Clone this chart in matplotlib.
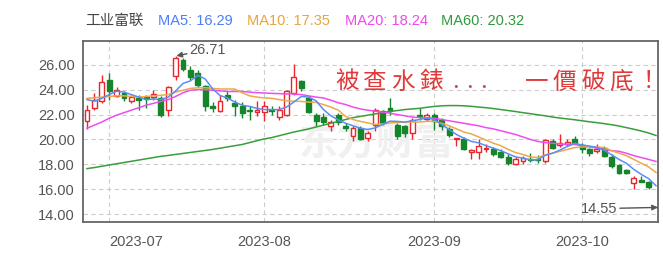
import numpy as np
import matplotlib
matplotlib.use("Agg")
import matplotlib.pyplot as plt
from matplotlib.patches import Rectangle

plt.rcParams['font.family'] = ['Liberation Sans', 'Noto Sans CJK SC', 'DejaVu Sans']

# 日K数据 (2023-06-28 ~ 2023-10-23)
opens = [21.46, 22.53, 23.06, 24.8, 23.46, 23.73, 23.06, 23.33, 23.38, 23.38,
         23.33, 22.4, 25.07, 26.4, 25.6, 25.33, 24.26, 22.67, 22.27, 23.55,
         22.94, 22.67, 22.4, 22.22, 22.22, 22.35, 21.82, 22.0, 23.73, 24.67,
         23.33, 22.0, 21.78, 21.07, 22.0, 21.07, 20.27, 20.93, 20.14, 21.2,
         22.27, 22.53, 21.2, 21.07, 20.53, 22.0, 21.65, 22.0, 21.6, 20.85,
         20.06, 20.0, 19.02, 18.98, 19.2, 19.2, 18.98, 18.62, 18.07, 18.27,
         18.45, 18.45, 18.27, 19.87, 19.52, 19.6, 20.0, 19.55, 19.2, 19.07,
         19.33, 18.62, 17.92, 17.55, 16.53, 16.72, 16.6, 14.55]
highs = [22.8, 23.76, 25.2, 25.3, 24.2, 23.9, 23.55, 23.6, 23.6, 24.0,
         23.47, 24.27, 26.71, 26.5, 25.9, 25.6, 24.4, 23.0, 23.6, 23.87,
         23.2, 23.04, 22.67, 23.07, 23.07, 22.67, 22.67, 24.0, 26.08, 24.8,
         23.47, 22.13, 22.13, 21.6, 22.13, 21.33, 21.07, 21.07, 20.67, 22.53,
         22.4, 23.33, 21.33, 21.2, 21.73, 22.53, 22.13, 22.13, 21.73, 21.0,
         20.14, 20.2, 19.2, 20.06, 19.6, 19.4, 19.2, 18.8, 18.6, 18.7,
         18.95, 18.75, 20.06, 20.0, 20.4, 20.0, 20.3, 19.7, 19.33, 19.6,
         19.5, 18.8, 18.0, 17.63, 17.06, 17.05, 16.7, 14.55]
lows = [20.85, 22.4, 22.96, 23.2, 23.4, 23.1, 22.9, 22.4, 22.5, 23.2,
        21.8, 21.87, 24.8, 25.5, 24.8, 24.2, 22.27, 22.2, 22.2, 23.07,
        21.87, 21.76, 21.6, 21.87, 21.47, 22.0, 21.6, 21.87, 23.6, 23.87,
        22.13, 21.07, 21.2, 20.66, 21.2, 20.66, 19.87, 19.97, 19.87, 20.66,
        21.2, 22.0, 20.0, 20.2, 20.0, 21.6, 21.5, 20.8, 20.8, 20.2,
        19.47, 19.13, 18.4, 18.4, 19.0, 18.66, 18.5, 17.95, 17.95, 18.0,
        18.2, 18.1, 18.1, 19.2, 19.4, 19.45, 19.6, 18.95, 18.66, 18.9,
        18.6, 17.7, 17.25, 17.25, 16.0, 16.58, 16.05, 14.55]
closes = [22.4, 23.2, 24.62, 23.86, 24.0, 23.33, 23.38, 23.2, 23.25, 23.65,
          22.0, 24.2, 26.5, 25.68, 25.0, 24.4, 22.67, 22.53, 23.07, 23.3,
          22.67, 22.13, 22.32, 22.35, 22.67, 22.27, 22.4, 23.87, 25.0, 24.13,
          22.18, 21.47, 21.38, 21.42, 21.38, 20.93, 20.93, 20.06, 20.48, 22.4,
          21.33, 22.32, 20.27, 20.53, 21.6, 21.87, 22.0, 21.47, 21.07, 20.32,
          20.14, 19.2, 19.14, 19.46, 19.33, 18.85, 18.62, 18.13, 18.4, 18.53,
          18.35, 18.37, 19.95, 19.33, 19.73, 19.82, 19.68, 19.2, 18.93, 19.2,
          18.67, 17.87, 17.33, 17.33, 16.88, 16.58, 16.16, 14.55]

ma5 = [23.2, 23.07, 23.3, 23.6, 23.87, 23.8, 23.6, 23.4, 23.2, 23.25,
       23.2, 23.4, 23.9, 24.5, 24.7, 25.15, 24.85, 24.06, 23.53, 23.33,
       23.0, 22.75, 22.65, 22.5, 22.4, 22.4, 22.4, 22.6, 23.0, 23.45,
       23.4, 23.1, 22.4, 21.9, 21.57, 21.3, 21.1, 20.9, 20.8, 20.93,
       21.2, 21.47, 21.45, 21.4, 21.5, 21.6, 21.73, 21.6, 21.2, 20.8,
       20.4, 20.1, 19.85, 19.73, 19.5, 19.3, 19.1, 18.85, 18.6, 18.5,
       18.37, 18.37, 18.73, 18.9, 19.15, 19.44, 19.7, 19.55, 19.47, 19.37,
       19.14, 18.77, 18.4, 18.08, 17.6, 17.2, 16.86, 16.29]
ma10 = [23.3, 23.35, 23.4, 23.45, 23.5, 23.5, 23.45, 23.4, 23.45, 23.5,
        23.55, 23.6, 23.8, 23.95, 24.1, 24.15, 24.15, 24.1, 24.05, 24.05,
        24.05, 23.75, 23.5, 23.4, 23.33, 23.3, 23.2, 23.1, 23.07, 23.05,
        23.0, 22.98, 22.8, 22.6, 22.35, 21.85, 21.6, 21.45, 21.33, 21.2,
        21.25, 21.33, 21.35, 21.4, 21.4, 21.4, 21.45, 21.47, 21.3, 21.1,
        20.85, 20.6, 20.45, 20.2, 19.95, 19.7, 19.5, 19.2, 18.95, 18.8,
        18.6, 18.55, 18.75, 18.9, 19.05, 19.2, 19.35, 19.4, 19.42, 19.4,
        19.35, 19.1, 18.9, 18.7, 18.4, 18.1, 17.8, 17.35]
ma20 = [20.9, 21.15, 21.4, 21.7, 21.95, 22.15, 22.35, 22.55, 22.75, 22.9,
        23.05, 23.2, 23.45, 23.75, 23.95, 24.0, 24.0, 23.95, 23.9, 23.85,
        23.85, 23.85, 23.8, 23.75, 23.73, 23.7, 23.68, 23.65, 23.65, 23.6,
        23.5, 23.4, 23.33, 23.15, 22.95, 22.8, 22.6, 22.45, 22.35, 22.27,
        22.2, 22.1, 22.0, 21.9, 21.8, 21.75, 21.73, 21.7, 21.6, 21.5,
        21.4, 21.3, 21.2, 21.1, 20.95, 20.85, 20.7, 20.55, 20.4, 20.2,
        20.0, 19.85, 19.75, 19.7, 19.65, 19.6, 19.6, 19.5, 19.4, 19.3,
        19.2, 19.1, 19.05, 18.9, 18.7, 18.55, 18.4, 18.24]
ma60 = [17.66, 17.75, 17.85, 17.95, 18.05, 18.15, 18.25, 18.35, 18.45, 18.55,
        18.65, 18.72, 18.8, 18.88, 18.96, 19.04, 19.12, 19.2, 19.3, 19.4,
        19.5, 19.6, 19.75, 19.9, 20.05, 20.15, 20.3, 20.45, 20.6, 20.72,
        20.85, 21.0, 21.15, 21.3, 21.45, 21.6, 21.75, 21.85, 21.95, 22.05,
        22.15, 22.25, 22.32, 22.4, 22.45, 22.5, 22.58, 22.65, 22.7, 22.72,
        22.72, 22.7, 22.66, 22.6, 22.55, 22.48, 22.4, 22.32, 22.24, 22.15,
        22.07, 21.98, 21.9, 21.8, 21.72, 21.65, 21.58, 21.5, 21.42, 21.35,
        21.27, 21.18, 21.08, 20.95, 20.82, 20.68, 20.52, 20.32]

month_pos = [3, 24, 47, 67]
month_labels = ["2023-07", "2023-08", "2023-09", "2023-10"]

RED = "#e8262c"
GREEN = "#16852a"

fig = plt.figure(figsize=(6.63, 2.59), dpi=100)
ax = fig.add_axes([83 / 663, 1 - 222 / 259, 575 / 663, 181 / 259])

n = len(opens)
w = 0.66
for i in range(n):
    o, h, l, c = opens[i], highs[i], lows[i], closes[i]
    up = c > o
    col = RED if up else GREEN
    ax.vlines(i, l, h, color=col, linewidth=1.0, zorder=2)
    bot = min(o, c)
    hgt = max(abs(c - o), 0.06)
    ax.add_patch(Rectangle((i - w / 2, bot), w, hgt,
                           facecolor="white" if up else col,
                           edgecolor=col, linewidth=1.0, zorder=3))

xm = np.arange(len(ma5))
ax.plot(xm, ma60, color="#3b9d3b", lw=1.1, zorder=4)
ax.plot(xm, ma20, color="#f04cf0", lw=1.1, zorder=4)
ax.plot(xm, ma10, color="#eda94a", lw=1.1, zorder=4)
ax.plot(xm, ma5, color="#5a8ef5", lw=1.1, zorder=4)

ax.set_xlim(-0.54, 77.27)
ax.set_ylim(13.38, 27.9)

yt = np.arange(14, 27, 2)
ax.set_yticks(yt, labels=["%.2f" % v for v in yt])
ax.set_xticks(month_pos, labels=month_labels)
ax.get_xticklabels()[0].set_horizontalalignment("left")
ax.tick_params(length=0, labelsize=10.5, labelcolor="#555555")
ax.tick_params(axis="x", pad=9)
ax.tick_params(axis="y", pad=6)
ax.grid(True, color="#cccccc", linestyle=(0, (4, 3)), linewidth=0.8)
ax.set_axisbelow(True)
for s in ax.spines.values():
    s.set_color("#666666")
    s.set_linewidth(1.3)

# 水印
ax.text(0.51, 0.43, "东方财富", transform=ax.transAxes, fontsize=28,
        color="#f0f0f0", weight="bold", ha="center", va="center",
        family=["Noto Sans CJK SC"], zorder=1)

ax.annotate("26.71", xy=(12.1, 26.71), xytext=(13.9, 27.2),
            fontsize=10.5, color="#555555", ha="left", va="center",
            arrowprops=dict(arrowstyle="-|>", color="#555555", lw=1.0,
                            mutation_scale=8, shrinkA=0, shrinkB=0))
ax.annotate("14.55", xy=(77.25, 14.55), xytext=(66.8, 14.45),
            fontsize=10.5, color="#555555", ha="left", va="center",
            arrowprops=dict(arrowstyle="-|>", color="#555555", lw=1.0,
                            mutation_scale=8, shrinkA=0, shrinkB=0))

# 红色大字, 字距较宽, 逐字放置
title_l = "被查水錶"
title_r = "一價破底！"
ty = 1 - 82 / 259
for k, ch in enumerate(title_l):
    fig.text((335 + 28 * k) / 663, ty, ch, fontsize=17, color="#e03a3a",
             ha="left", va="center", family=["Noto Sans CJK TC"])
for k in range(3):
    fig.text((452 + 14 * k) / 663, ty, ".", fontsize=17, color="#e03a3a",
             ha="left", va="center", family=["Noto Sans CJK TC"])
for k, ch in enumerate(title_r):
    fig.text((525 + 28 * k) / 663, ty, ch, fontsize=17, color="#e03a3a",
             ha="left", va="center", family=["Noto Sans CJK TC"])

# 顶部标题
hy = 1 - 21 / 259
fig.text(85 / 663, hy, "工业富联", fontsize=10.5, color="#444444",
         va="center", family=["Noto Sans CJK SC"])
fig.text(158 / 663, hy, "MA5: 16.29", fontsize=10.5, color="#4f7ef5", va="center")
fig.text(247 / 663, hy, "MA10: 17.35", fontsize=10.5, color="#e8a53c", va="center")
fig.text(345 / 663, hy, "MA20: 18.24", fontsize=10.5, color="#ee48ee", va="center")
fig.text(441 / 663, hy, "MA60: 20.32", fontsize=10.5, color="#2f9a3a", va="center")

fig.savefig("out.png", dpi=100)
